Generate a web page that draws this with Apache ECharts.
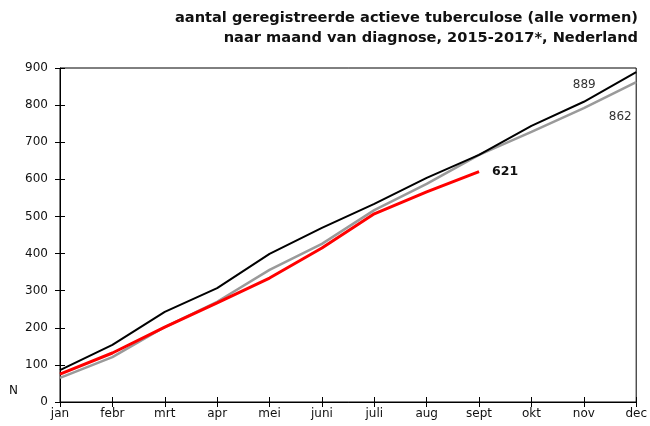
<!DOCTYPE html>
<html><head><meta charset="utf-8">
<script src="https://cdn.jsdelivr.net/npm/echarts@6/dist/echarts.min.js"></script>
<style>html,body{margin:0;padding:0;background:#fff}#c{width:650px;height:426px}</style>
</head><body><div id="c"></div>
<script>
const months = ['jan','febr','mrt','apr','mei','juni','juli','aug','sept','okt','nov','dec'];
const yTicks = [0,100,200,300,400,500,600,700,800,900];
const s2015 = [86,154,243,307,399,469,534,604,666,744,809,889];
const s2016 = [65,121,202,270,356,426,517,588,666,728,792,862];
const s2017 = [75,132,202,267,334,415,507,566,621];
const titleLines = ['aantal geregistreerde actieve tuberculose (alle vormen)','naar maand van diagnose, 2015-2017*, Nederland'];

const chart = echarts.init(document.getElementById('c'));
const font = 'DejaVu Sans, Verdana, sans-serif';
function lastLabel(arr, opts){
  return arr.map((v,i)=> i===arr.length-1 ? {value:v, label:Object.assign({show:true, fontFamily:font}, opts)} : v);
}
chart.setOption({
  animation:false,
  graphic:[
    {type:'text', right:12, top:11, style:{text:titleLines[0], font:'bold 14.6px '+font, fill:'#111', textAlign:'right'}},
    {type:'text', right:12, top:31, style:{text:titleLines[1], font:'bold 14.6px '+font, fill:'#111', textAlign:'right'}},
    {type:'text', left:9, top:385, style:{text:'N', font:'12px '+font, fill:'#111'}}
  ],
  grid:{left:60, right:13, top:68, bottom:24, show:true, borderColor:'#000', borderWidth:1},
  xAxis:[{
    type:'category', data:months, boundaryGap:false,
    axisLine:{lineStyle:{color:'#000', width:1}},
    axisTick:{show:true, length:5, lineStyle:{color:'#000'}},
    axisLabel:{color:'#111', fontFamily:font, fontSize:12, margin:6, interval:0},
    splitLine:{show:false}
  },{
    type:'category', data:months, boundaryGap:false, position:'bottom', offset:-5,
    axisLine:{show:false}, axisTick:{show:true, length:5, lineStyle:{color:'#000'}},
    axisLabel:{show:false}, splitLine:{show:false}
  }],
  yAxis:[{
    type:'value', min:0, max:900, interval:100,
    axisLine:{show:true, lineStyle:{color:'#000'}},
    axisTick:{show:true, length:5, lineStyle:{color:'#000'}},
    axisLabel:{color:'#111', fontFamily:font, fontSize:12, margin:12},
    splitLine:{show:false}
  },{
    type:'value', min:0, max:900, interval:100, position:'left', offset:-5,
    axisLine:{show:false}, axisTick:{show:true, length:5, lineStyle:{color:'#000'}},
    axisLabel:{show:false}, splitLine:{show:false}
  }],
  series:[
    {name:'2016', type:'line', data:lastLabel(s2016,{position:'inside', offset:[-16,35], color:'#333', fontSize:12}),
     symbol:'circle', symbolSize:0.1, showSymbol:true, showAllSymbol:true,
     lineStyle:{color:'#9a9a9a', width:2.5}, itemStyle:{color:'#9a9a9a'}, z:2},
    {name:'2015', type:'line', data:lastLabel(s2015,{position:'inside', offset:[-52,13], color:'#333', fontSize:12}),
     symbol:'circle', symbolSize:0.1, showSymbol:true, showAllSymbol:true,
     lineStyle:{color:'#000', width:2}, itemStyle:{color:'#000'}, z:3},
    {name:'2017', type:'line', data:lastLabel(s2017,{position:'right', distance:13, color:'#111', fontSize:12.5, fontWeight:'bold'}),
     symbol:'circle', symbolSize:0.1, showSymbol:true, showAllSymbol:true,
     lineStyle:{color:'#ff0000', width:3}, itemStyle:{color:'#ff0000'}, z:4}
  ]
});
</script></body></html>
